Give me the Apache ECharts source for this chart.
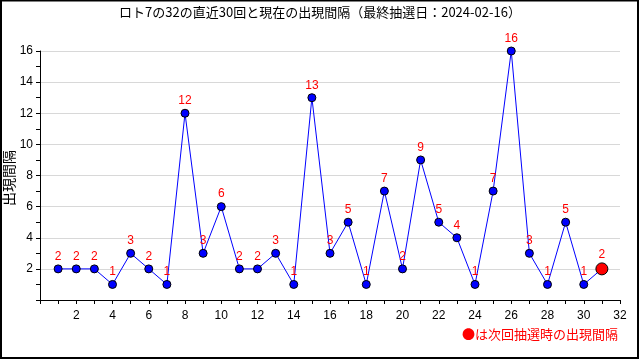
<!DOCTYPE html>
<html><head><meta charset="utf-8">
<script src="https://cdn.jsdelivr.net/npm/echarts@6/dist/echarts.min.js"></script>
<style>html,body{margin:0;padding:0;background:#fff}#c{width:640px;height:360px}</style>
</head><body><div id="c"></div>
<script>
const titleText = 'ロト7の32の直近30回と現在の出現間隔（最終抽選日：2024-02-16）';
const yName = '出現間隔';
const noteText = '●は次回抽選時の出現間隔';
const draws = [1,2,3,4,5,6,7,8,9,10,11,12,13,14,15,16,17,18,19,20,21,22,23,24,25,26,27,28,29,30];
const intervals = [2,2,2,1,3,2,1,12,3,6,2,2,3,1,13,3,5,1,7,2,9,5,4,1,7,16,3,1,5,1];
const currentDraw = 31;
const currentInterval = 2;

const font = '"Liberation Sans", sans-serif';
const jp = '"Noto Sans CJK JP", sans-serif';
const data = draws.map((d,i)=>[d, intervals[i]]);
data.push({value:[currentDraw,currentInterval], symbolSize:12, itemStyle:{color:'#ff0000',borderColor:'#000',borderWidth:1}});

const chart = echarts.init(document.getElementById('c'));
chart.setOption({
  animation:false,
  backgroundColor:'#fff',
  title:{text:titleText,left:'center',top:1,textStyle:{fontFamily:jp,fontSize:13,fontWeight:'normal',color:'#000'}},
  grid:{left:40,right:20,top:51,bottom:60,containLabel:false,outerBoundsMode:'none'},
  xAxis:{type:'value',min:0,max:32,interval:2,
    axisLine:{lineStyle:{color:'#000',width:1}},
    axisTick:{show:true,length:4,lineStyle:{color:'#000'}},
    minorTick:{show:true,splitNumber:2,length:4,lineStyle:{color:'#000'}},
    splitLine:{show:false},
    axisLabel:{color:'#000',fontFamily:font,fontSize:12,margin:10,formatter:v=>v===0?'':String(v)}},
  yAxis:{type:'value',min:0,max:16,interval:2,
    axisLine:{show:true,lineStyle:{color:'#000',width:1}},
    axisTick:{show:true,length:4,lineStyle:{color:'#000'}},
    minorTick:{show:true,splitNumber:2,length:4,lineStyle:{color:'#000'}},
    splitLine:{show:true,lineStyle:{color:'#d8d8d8',width:1}},
    axisLabel:{color:'#000',fontFamily:font,fontSize:12,margin:7,formatter:v=>v===0?'':String(v)}},
  series:[{type:'line',data:data,symbol:'circle',symbolSize:8,
    lineStyle:{color:'#0000ff',width:1},
    itemStyle:{color:'#0000ff',borderColor:'#000',borderWidth:1},
    label:{show:true,position:'top',distance:2,color:'#ff0000',fontFamily:font,fontSize:12,
      formatter:p=>String(p.value[1])},
    emphasis:{disabled:true}}],
  graphic:[
    {type:'rect',shape:{x:1,y:0.5,width:637,height:357.5},style:{fill:'none',stroke:'#000',lineWidth:2},silent:true},
    {type:'text',x:9,y:178,rotation:Math.PI/2,style:{text:yName,fill:'#000',font:'14px "Noto Sans CJK JP", sans-serif',align:'center',verticalAlign:'middle'}},
    {type:'text',right:22,top:328,style:{text:noteText,fill:'#ff0000',font:'13px "Noto Sans CJK JP", sans-serif'}}
  ]
});
</script></body></html>
